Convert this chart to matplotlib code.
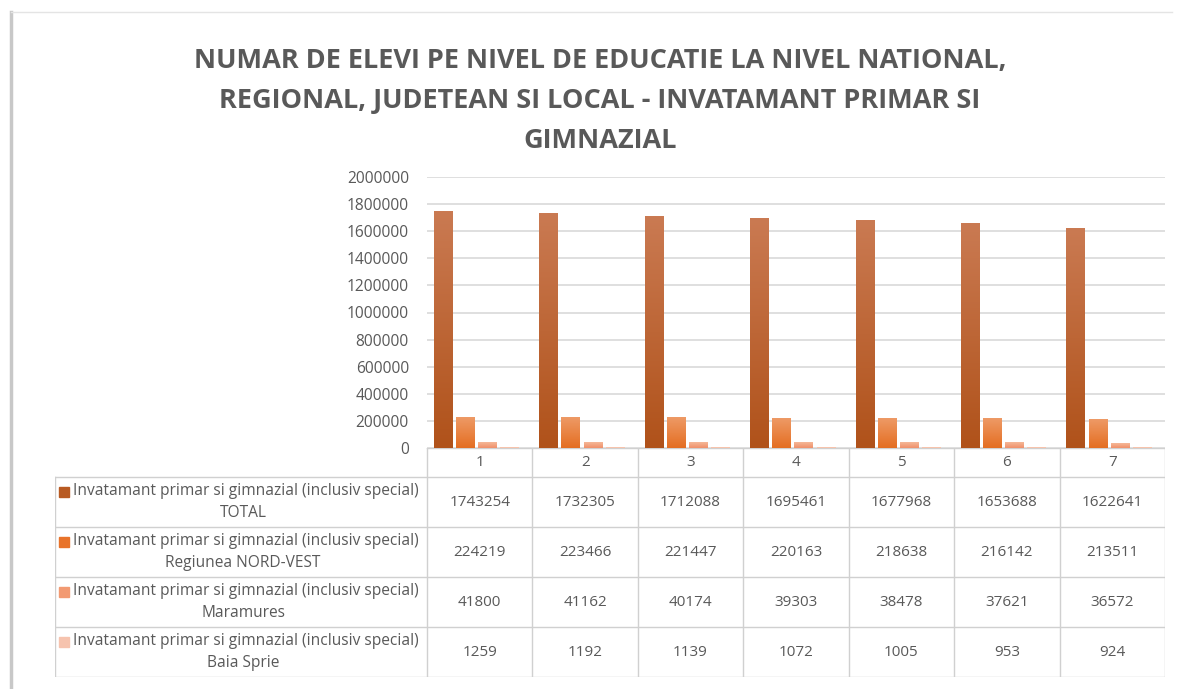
import numpy as np
import matplotlib.pyplot as plt
from matplotlib.colors import LinearSegmentedColormap

categories = ["1", "2", "3", "4", "5", "6", "7"]
series_names = [
    "TOTAL",
    "Regiunea NORD-VEST",
    "Maramures",
    "Baia Sprie",
]
total = [1743254, 1732305, 1712088, 1695461, 1677968, 1653688, 1622641]
nord_vest = [224219, 223466, 221447, 220163, 218638, 216142, 213511]
maramures = [41800, 41162, 40174, 39303, 38478, 37621, 36572]
baia_sprie = [1259, 1192, 1139, 1072, 1005, 953, 924]
series_values = [total, nord_vest, maramures, baia_sprie]

row_prefix = "Invatamant primar si gimnazial (inclusiv special)"
title = ("NUMAR DE ELEVI PE NIVEL DE EDUCATIE LA NIVEL NATIONAL,\n"
         "REGIONAL, JUDETEAN SI LOCAL - INVATAMANT PRIMAR SI\n"
         "GIMNAZIAL")

# gradient (top, bottom) per series and legend key colours
grad_colors = [("#CA7A52", "#B0521A"), ("#EE9A66", "#E46E22"),
               ("#F5B898", "#F0906A"), ("#F9CDB8", "#F5B9A0")]
key_colors = ["#B85A22", "#E8732A", "#F29A72", "#F6C3AE"]

text_gray = "#595959"
grid_gray = "#D9D9D9"
font = "Open Sans"

W, H = 1182, 689
fig = plt.figure(figsize=(W / 100, H / 100), dpi=100)
fig.patch.set_facecolor("white")


def fx(px):
    return px / W


def fy(py):
    return 1 - py / H


# card border / shadow
fig.add_artist(plt.Line2D([fx(11), fx(11)], [fy(12), 0], color="#C8C8C8", lw=2.5))
fig.add_artist(plt.Line2D([fx(11), fx(1172)], [fy(12), fy(12)], color="#E4E4E4", lw=1))

fig.text(fx(600), fy(101), title, ha="center", va="center", fontsize=19.5,
         fontweight="bold", color=text_gray, family=font, linespacing=1.68)

# plot area
left, right, top, bottom = 427, 1165, 177, 448
ax = fig.add_axes([fx(left), fy(bottom), fx(right - left), (bottom - top) / H])
x = np.arange(len(categories))
width = 0.175
step = 0.21
offsets = [-0.348 + i * step for i in range(4)]
for vals, off, (c_top, c_bot) in zip(series_values, offsets, grad_colors):
    bars = ax.bar(x + off, vals, width, color="none", zorder=3)
    cmap = LinearSegmentedColormap.from_list("g", [c_bot, c_top])
    grad = np.linspace(0, 1, 128).reshape(-1, 1)
    for b in bars:
        ax.imshow(grad, cmap=cmap, origin="lower", aspect="auto", zorder=3,
                  extent=[b.get_x(), b.get_x() + b.get_width(), 0, b.get_height()])
ax.set_xlim(-0.5, len(categories) - 0.5)
ax.set_ylim(0, 2000000)
ax.set_yticks(np.arange(0, 2000001, 200000))
ax.set_yticklabels([str(v) for v in range(0, 2000001, 200000)])
ax.set_xticks([])
ax.grid(axis="y", color=grid_gray, lw=1.2, zorder=0)
for s in ax.spines.values():
    s.set_visible(False)
ax.tick_params(axis="y", length=0, pad=13, labelsize=11.2, labelcolor=text_gray)
for t in ax.get_yticklabels():
    t.set_family(font)

# data table below the plot
t_left, t_bottom = 55, 677
tab = fig.add_axes([fx(t_left), fy(t_bottom), fx(right - t_left), (t_bottom - bottom) / H])
cat_w = (right - left) / len(categories)
x0 = -0.5 - (left - t_left) / cat_w
tab.set_xlim(x0, len(categories) - 0.5)
tab.set_ylim(t_bottom - bottom, 0)
tab.axis("off")
line_c = "#D0D0D0"
row_edges = [29, 79, 129, 179, 229]
tab.plot([-0.5, len(categories) - 0.5], [0, 0], color=line_c, lw=1)
for yy in row_edges:
    tab.plot([x0, len(categories) - 0.5], [yy, yy], color=line_c, lw=1)
tab.plot([x0, x0], [row_edges[0], row_edges[-1]], color=line_c, lw=1)
for i in range(len(categories) + 1):
    tab.plot([i - 0.5, i - 0.5], [0, row_edges[-1]], color=line_c, lw=1)
for i, c in enumerate(categories):
    tab.text(i, 14.5, c, ha="center", va="center", fontsize=11,
             color=text_gray, family=font)
label_cx = (x0 + -0.5) / 2 + 0.02
for r, (name, vals, kc) in enumerate(zip(series_names, series_values, key_colors)):
    yc = (row_edges[r] + row_edges[r + 1]) / 2
    tab.text(label_cx + 0.03, yc - 11, row_prefix, ha="center", va="center",
             fontsize=11.2, color=text_gray, family=font)
    tab.text(label_cx, yc + 11, name, ha="center", va="center",
             fontsize=11.2, color=text_gray, family=font)
    tab.plot([x0 + 0.085], [yc - 10], marker="s", ms=6.5, color=kc, mec=kc)
    for i, v in enumerate(vals):
        tab.text(i, yc, str(v), ha="center", va="center", fontsize=11,
                 color=text_gray, family=font)

fig.savefig("out.png", dpi=100)
